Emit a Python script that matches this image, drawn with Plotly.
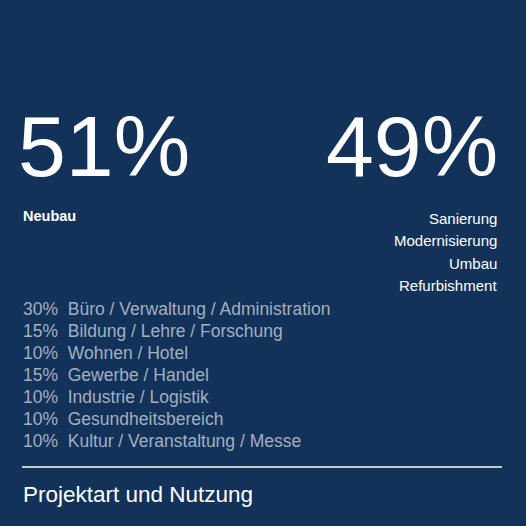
import plotly.graph_objects as go

# data
big_values = ["51%", "49%"]
left_labels = ["Neubau"]
right_labels = ["Sanierung", "Modernisierung", "Umbau", "Refurbishment"]
usage_shares = [30, 15, 10, 15, 10, 10, 10]
usage_names = ["Büro / Verwaltung / Administration", "Bildung / Lehre / Forschung",
               "Wohnen / Hotel", "Gewerbe / Handel", "Industrie / Logistik",
               "Gesundheitsbereich", "Kultur / Veranstaltung / Messe"]
title = "Projektart und Nutzung"

W = H = 526
BG = "#12325a"
GREY = "#a3afc0"
FONT = "Liberation Sans, Arial, sans-serif"


def py(px):
    return 1 - px / H


def px_x(px):
    return px / W


fig = go.Figure()
ann = []

ann.append(dict(x=px_x(16), y=py(146), text=big_values[0], xanchor="left", yanchor="middle",
                font=dict(size=86, color="white", family=FONT)))
ann.append(dict(x=px_x(500), y=py(146), text=big_values[1], xanchor="right", yanchor="middle",
                font=dict(size=86, color="white", family=FONT)))

for i, t in enumerate(left_labels):
    ann.append(dict(x=px_x(21), y=py(216 + 22 * i), text=f"<b>{t}</b>", xanchor="left",
                    yanchor="middle", font=dict(size=14.5, color="white", family=FONT)))
for i, t in enumerate(right_labels):
    ann.append(dict(x=px_x(499), y=py(218 + 22.5 * i), text=t, xanchor="right", yanchor="middle",
                    font=dict(size=15, color="white", family=FONT)))

for i, (s, n) in enumerate(zip(usage_shares, usage_names)):
    ann.append(dict(x=px_x(21), y=py(309 + 22 * i), text=f"{s}%  {n}", xanchor="left",
                    yanchor="middle", font=dict(size=17.5, color=GREY, family=FONT)))

ann.append(dict(x=px_x(21), y=py(494), text=title, xanchor="left", yanchor="middle",
                font=dict(size=22.5, color="white", family=FONT)))

for a in ann:
    a.update(xref="paper", yref="paper", showarrow=False)

fig.update_layout(
    width=W, height=H,
    margin=dict(l=0, r=0, t=0, b=0),
    paper_bgcolor=BG, plot_bgcolor=BG,
    xaxis=dict(visible=False, range=[0, 1]),
    yaxis=dict(visible=False, range=[0, 1]),
    annotations=ann,
    shapes=[dict(type="line", xref="paper", yref="paper", x0=px_x(22), x1=px_x(502),
                 y0=py(467), y1=py(467), line=dict(color="white", width=1.5))],
    showlegend=False,
)

fig.write_html("out.html", config={"displayModeBar": False},
               post_script="document.body.style.margin='0';document.body.style.background='%s';" % BG)
